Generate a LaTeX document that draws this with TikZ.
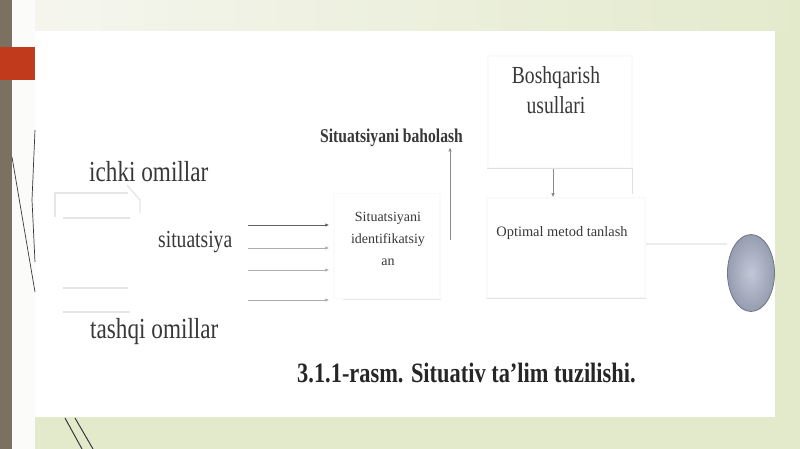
\documentclass[tikz,border=0pt]{standalone}
\usepackage{fontspec}
\setmainfont{Liberation Serif}
\newfontfamily\narrowserif[FakeStretch=0.8]{Liberation Serif}
\usetikzlibrary{positioning, shapes.geometric, arrows.meta}

\definecolor{slidegreen}{HTML}{E3EACC}
\definecolor{slidetop}{HTML}{F6F6F0}
\definecolor{barbrown}{HTML}{7C7060}
\definecolor{barred}{HTML}{C23A1C}
\definecolor{inkgray}{HTML}{383838}
\definecolor{linegray}{HTML}{8A8A8A}
\definecolor{ovalin}{HTML}{C2C8D6}
\definecolor{ovalout}{HTML}{969DB0}

\begin{document}
\begin{tikzpicture}[x=1pt, y=-1pt]
        % Styles
        \tikzset{
          bigtxt/.style={
            font=\narrowserif\fontsize{29}{32}\selectfont,
            text=inkgray, inner sep=0pt
          },
          midtxt/.style={
            font=\narrowserif\fontsize{24.5}{30}\selectfont,
            text=inkgray, inner sep=0pt
          },
          smalltxt/.style={
            font=\fontsize{14}{22}\selectfont,
            text=inkgray, inner sep=0pt, align=center
          },
          faintbox/.style={
            draw=gray!4, line width=1.5pt,
            rectangle, inner sep=0pt
          },
          faint/.style={draw=gray!20, line width=1.3pt},
          feed/.style={
            draw=linegray, line width=0.8pt,
            -{Latex[length=4pt,width=3.5pt]}
          }
        }

        % slide background and panel
        \useasboundingbox (0,0) rectangle (800,449);
        \fill[slidegreen] (0,0) rectangle (800,449);
        \shade[left color=slidetop, right color=slidegreen]
          (0,0) rectangle (800,31);
        \fill[white!60!slidetop] (12,0) rectangle (35,449);
        \fill[barbrown] (0,0) rectangle (12,449);
        \fill[barred] (0,47) rectangle (35,80);
        \fill[white] (35,31) rectangle (775,417);
        \draw[inkgray, line width=0.7pt] (35,130) -- (32,200) -- (35,262);
        \draw[inkgray, line width=0.7pt] (12,157) -- (35,292);
        \draw[inkgray, line width=1pt] (65,418) -- (82,449);
        \draw[inkgray, line width=1pt] (75,418) -- (93,449);

        % left faint boxes
        \draw[faint] (128,193) -- (55,193) -- (55,217);
        \draw[faint] (63,218) -- (130,218);
        \draw[faint] (127,185) -- (140,200) -- (140,213);
        \draw[faint] (63,288) -- (128,288);
        \draw[faint] (63,312) -- (130,312);

        % texts on the left
        \node[bigtxt, anchor=base west] (ichki) at (89,182) {ichki omillar};
        \node[midtxt, anchor=base west] (sit) at (158,247) {situatsiya};
        \node[bigtxt, anchor=base west] (tashqi) at (90,338) {tashqi omillar};

        % boxes
        \node[faintbox, minimum width=106, minimum height=105] (idbox) at (387,246) {};
        \node[smalltxt, anchor=north] (idlbl) at (388,212)
          {Situatsiyani\\identifikatsiy\\an};
        \node[faintbox, minimum width=144, minimum height=112] (usulbox) at (560,112) {};
        \node[midtxt, anchor=north, align=center] (usul) at (556,66)
          {Boshqarish\\usullari};
        \node[faintbox, minimum width=158, minimum height=100] (optbox) at (566,248) {};
        \node[smalltxt, font=\fontsize{14.4}{18}\selectfont, anchor=base]
          (optlbl) at (562,236) {Optimal metod tanlash};
        \node[ellipse, minimum width=47, minimum height=77, inner sep=0pt,
          draw=ovalout!75!black, line width=0.8pt,
          inner color=ovalin, outer color=ovalout] (oval) at (751,273) {};

        \node[font=\narrowserif\bfseries\fontsize{19.5}{22}\selectfont,
          text=inkgray, inner sep=0pt, anchor=base west] (bahol) at (320,143)
          {Situatsiyani baholash};

        % four inputs into identification
        \foreach \y [count=\i] in {225,248,270,300} {
          \coordinate (in\i) at (248,\y);
        }
        \draw[feed, draw=inkgray!80] (in1) -- ([xshift=-4pt]in1 -| idbox.west);
        \foreach \i in {2,3,4} {
          \draw[feed, draw=linegray!70] (in\i) -- ([xshift=-4pt]in\i -| idbox.west);
        }
        \draw[faint, draw=gray!18] ([xshift=10pt]idbox.south west) -- (idbox.south east);

        % up to evaluation
        \coordinate (vb) at (450,240);
        \draw[feed] (vb) -- (vb |- bahol.south);

        % methods down to choice
        \draw[faint, draw=gray!25] (usulbox.south west) -- (usulbox.south east)
          -- ([yshift=-25pt]usulbox.south east);
        \draw[feed] ([xshift=-7pt]usulbox.south) -- ([xshift=-7pt]usulbox.south |- optbox.north);

        % choice out to result
        \draw[faint, draw=gray!22] (optbox.south west) -- (optbox.south east);
        \draw[faint, draw=gray!15] ([yshift=4pt]optbox.east) -- ([yshift=4pt]optbox.east -| oval.west);

        % caption
        \node[font=\narrowserif\bfseries\fontsize{28}{30}\selectfont,
          text=black!85, inner sep=0pt, anchor=base west] (cap) at (297,382)
          {3.1.1-rasm. Situativ ta’lim tuzilishi.};
\end{tikzpicture}
\end{document}
